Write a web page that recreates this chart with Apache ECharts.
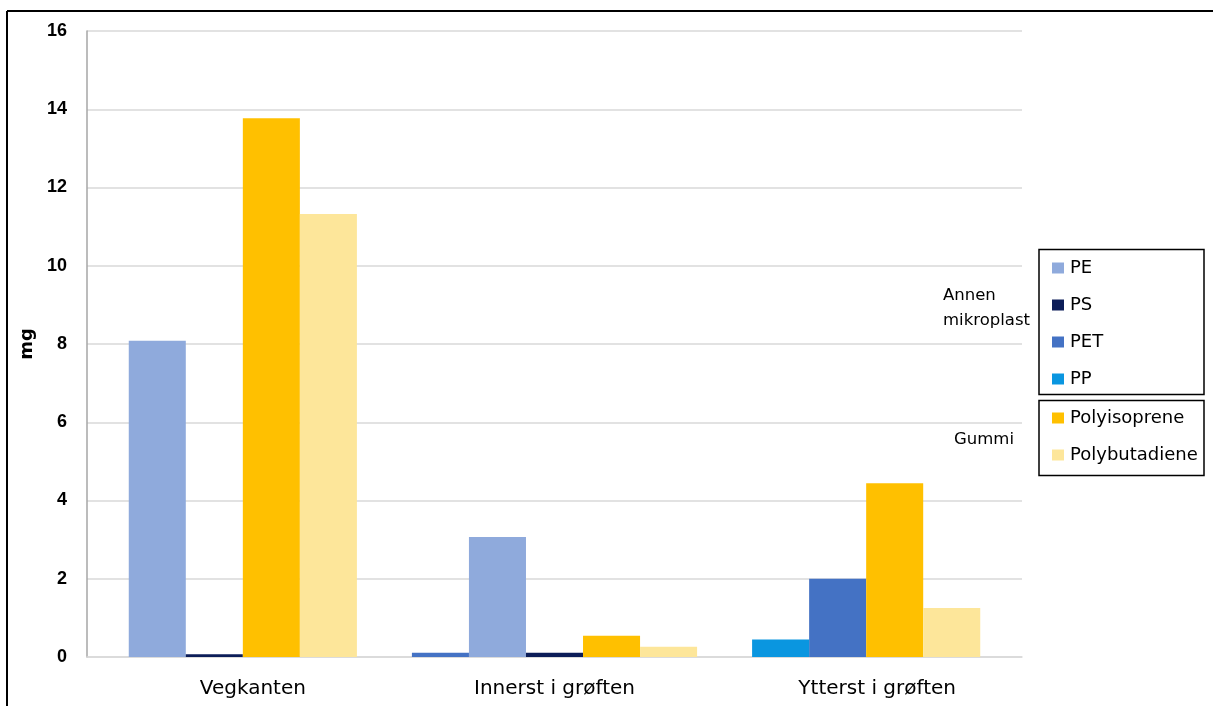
<!DOCTYPE html>
<html>
<head>
<meta charset="utf-8">
<script src="https://cdn.jsdelivr.net/npm/echarts@6/dist/echarts.min.js"></script>
<style>
  html, body { margin: 0; padding: 0; background: #fff; }
  #chart { width: 1213px; height: 706px; }
</style>
</head>
<body>
<div id="chart"></div>
<script>
// Sampling sites along the road
const categories = ['Vegkanten', 'Innerst i grøften', 'Ytterst i grøften'];

// Mass per polymer type (mg), one value per site
const PE            = [8.08, 3.07, 0];
const PS            = [0.07, 0.11, 0];
const PET           = [0, 0.11, 2.0];
const PP            = [0, 0, 0.45];
const Polyisoprene  = [13.77, 0.54, 4.44];
const Polybutadiene = [11.32, 0.26, 1.25];

// Bars shown in each site group, left to right (empty ones are left out)
const groupOrder = [
  ['PE', 'PS', 'Polyisoprene', 'Polybutadiene'],
  ['PET', 'PE', 'PS', 'Polyisoprene', 'Polybutadiene'],
  ['PP', 'PET', 'Polyisoprene', 'Polybutadiene']
];

// Legend groups
const plasticNames = ['PE', 'PS', 'PET', 'PP'];
const rubberNames = ['Polyisoprene', 'Polybutadiene'];

// y axis ticks
const yMin = 0, yMax = 16, yStep = 2;

const seriesDefs = [
  { name: 'PE', values: PE, color: '#8faadc' },
  { name: 'PS', values: PS, color: '#0c1d58' },
  { name: 'PET', values: PET, color: '#4472c4' },
  { name: 'PP', values: PP, color: '#0a96e0' },
  { name: 'Polyisoprene', values: Polyisoprene, color: '#ffc000' },
  { name: 'Polybutadiene', values: Polybutadiene, color: '#fde69a' }
];

const BAR_RATIO = 0.183;   // bar width as a share of one category band
const FONT = 'DejaVu Sans';

function renderBar(params, api) {
  const cat = api.value(0);
  const val = api.value(1);
  const order = groupOrder[cat];
  const slot = order.indexOf(params.seriesName);
  if (slot < 0 || !val) return;
  const band = api.size([1, 0])[0];
  const w = band * BAR_RATIO;
  const base = api.coord([cat, 0]);
  const top = api.coord([cat, val]);
  const x0 = base[0] - order.length * w / 2 + slot * w;
  return {
    type: 'rect',
    shape: { x: x0, y: top[1], width: w, height: base[1] - top[1] },
    style: { fill: api.visual('color') }
  };
}

// Small shift for some category labels
const labelShift = { 'Vegkanten': 20, 'Innerst i grøften': 0, 'Ytterst i grøften': 22 };

const chart = echarts.init(document.getElementById('chart'), null, { renderer: 'canvas' });

const legendCommon = {
  orient: 'vertical',
  left: 1052,
  itemWidth: 12,
  itemHeight: 11,
  itemGap: 19,
  icon: 'rect',
  padding: 0,
  selectedMode: false,
  textStyle: { fontFamily: FONT, fontSize: 18, color: '#000', lineHeight: 18, padding: [0, 0, 0, 1] }
};

chart.setOption({
  animation: false,
  backgroundColor: '#fff',
  grid: { left: 87, right: 191, top: 31, bottom: 49 },
  legend: [
    Object.assign({}, legendCommon, { top: 259, data: plasticNames }),
    Object.assign({}, legendCommon, { top: 409, data: rubberNames })
  ],
  xAxis: {
    type: 'category',
    data: categories,
    axisLine: { show: true, lineStyle: { color: '#d9d9d9', width: 1.5 } },
    axisTick: { show: false },
    axisLabel: {
      margin: 22,
      formatter: function (v) { return labelShift[v] ? '{s' + labelShift[v] + '|' + v + '}' : '{n|' + v + '}'; },
      rich: {
        n: { fontFamily: FONT, fontSize: 20, color: '#000' },
        s20: { fontFamily: FONT, fontSize: 20, color: '#000', padding: [0, 0, 0, 20] },
        s22: { fontFamily: FONT, fontSize: 20, color: '#000', padding: [0, 0, 0, 22] }
      }
    }
  },
  yAxis: {
    type: 'value',
    min: yMin,
    max: yMax,
    interval: yStep,
    name: 'mg',
    nameLocation: 'middle',
    nameRotate: 90,
    nameGap: 48,
    nameTextStyle: { fontFamily: FONT, fontSize: 18, fontWeight: 'bold', color: '#000' },
    axisLine: { show: true, lineStyle: { color: '#a6a6a6', width: 1.5 } },
    axisTick: { show: false },
    axisLabel: { margin: 20, fontFamily: 'Liberation Sans', fontSize: 18, fontWeight: 'bold', color: '#000' },
    splitLine: { show: true, lineStyle: { color: '#d9d9d9', width: 1.5 } }
  },
  series: seriesDefs.map(function (s) {
    return {
      type: 'custom',
      name: s.name,
      renderItem: renderBar,
      itemStyle: { color: s.color },
      encode: { x: 0, y: 1 },
      data: s.values.map(function (v, i) { return [i, v]; })
    };
  }),
  graphic: [
    // outer frame (top and left edges)
    { type: 'line', shape: { x1: 7, y1: 11, x2: 1213, y2: 11 }, style: { stroke: '#000', lineWidth: 2 } },
    { type: 'line', shape: { x1: 7, y1: 11, x2: 7, y2: 706 }, style: { stroke: '#000', lineWidth: 2 } },
    // legend boxes
    { type: 'rect', shape: { x: 1039, y: 249.5, width: 165, height: 145 }, style: { fill: 'none', stroke: '#000', lineWidth: 1.5 } },
    { type: 'rect', shape: { x: 1039, y: 400.5, width: 165, height: 75 }, style: { fill: 'none', stroke: '#000', lineWidth: 1.5 } },
    // legend group captions
    { type: 'text', left: 943, top: 287, style: { text: 'Annen', fontFamily: FONT, fontSize: 16.5, fill: '#000' } },
    { type: 'text', left: 943, top: 312, style: { text: 'mikroplast', fontFamily: FONT, fontSize: 16.5, fill: '#000' } },
    { type: 'text', left: 954, top: 431, style: { text: 'Gummi', fontFamily: FONT, fontSize: 16.5, fill: '#000' } }
  ]
});
</script>
</body>
</html>
